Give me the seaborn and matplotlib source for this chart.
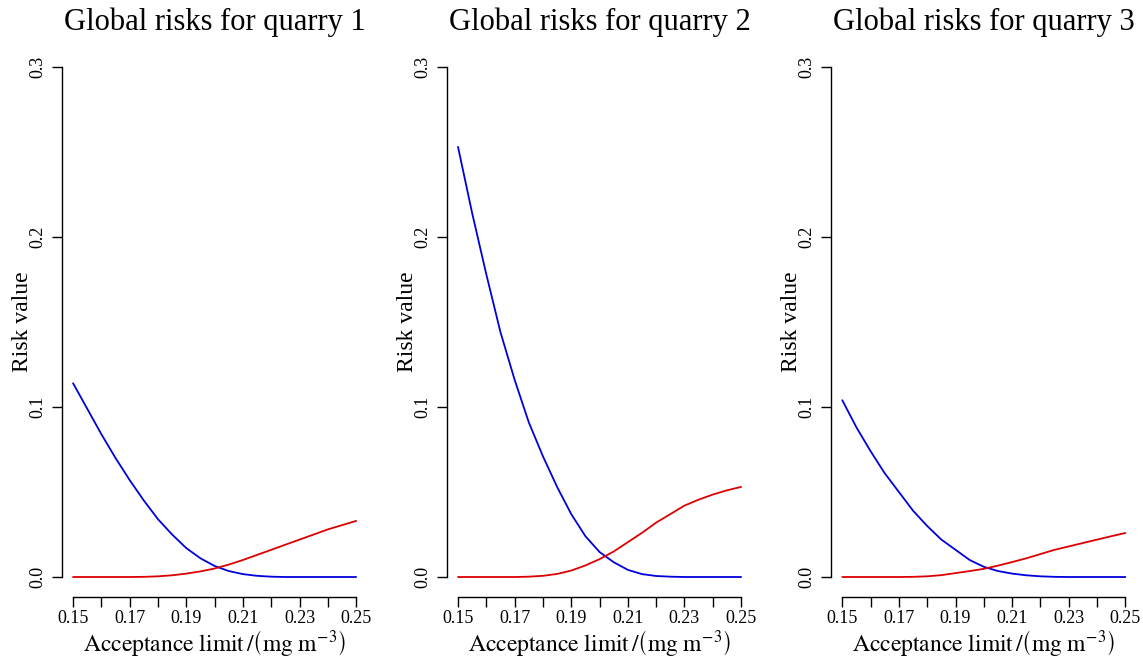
import numpy as np
import pandas as pd
import matplotlib
matplotlib.use("Agg")
import matplotlib.pyplot as plt
import seaborn as sns

# 数据：接受限 (mg m^-3) 与风险值
limit = [0.150, 0.155, 0.160, 0.165, 0.170, 0.175, 0.180, 0.185, 0.190, 0.195, 0.200,
         0.205, 0.210, 0.215, 0.220, 0.225, 0.230, 0.235, 0.240, 0.245, 0.250]

# 蓝线（下降）
blue_q1 = [0.114, 0.099, 0.084, 0.070, 0.057, 0.045, 0.034, 0.025, 0.017, 0.011, 0.0065,
           0.0035, 0.0017, 0.0007, 0.0002, 0.0, 0.0, 0.0, 0.0, 0.0, 0.0]
blue_q2 = [0.253, 0.214, 0.178, 0.144, 0.116, 0.091, 0.071, 0.053, 0.037, 0.024, 0.0147,
           0.0087, 0.0042, 0.0017, 0.0006, 0.0002, 0.0, 0.0, 0.0, 0.0, 0.0]
blue_q3 = [0.104, 0.088, 0.074, 0.061, 0.050, 0.039, 0.030, 0.022, 0.016, 0.010, 0.006,
           0.0035, 0.002, 0.001, 0.0004, 0.0001, 0.0, 0.0, 0.0, 0.0, 0.0]

# 红线（上升）
red_q1 = [0.0, 0.0, 0.0, 0.0, 0.0, 0.0001, 0.0004, 0.001, 0.002, 0.0033, 0.005,
          0.0073, 0.010, 0.013, 0.016, 0.019, 0.022, 0.025, 0.028, 0.0305, 0.033]
red_q2 = [0.0, 0.0, 0.0, 0.0, 0.0, 0.0002, 0.0007, 0.0018, 0.0038, 0.0068, 0.0105,
          0.015, 0.0205, 0.026, 0.032, 0.037, 0.042, 0.0455, 0.0485, 0.051, 0.053]
red_q3 = [0.0, 0.0, 0.0, 0.0, 0.0, 0.0001, 0.0004, 0.0011, 0.0023, 0.0035, 0.0048,
          0.0067, 0.0088, 0.011, 0.0135, 0.016, 0.018, 0.020, 0.022, 0.024, 0.0259]

titles = ["Global risks for quarry 1", "Global risks for quarry 2", "Global risks for quarry 3"]
x_ticks = [0.15, 0.16, 0.17, 0.18, 0.19, 0.20, 0.21, 0.22, 0.23, 0.24, 0.25]
x_ticklabels = ["0.15", "", "0.17", "", "0.19", "", "0.21", "", "0.23", "", "0.25"]
y_ticks = [0.0, 0.1, 0.2, 0.3]
y_ticklabels = ["0.0", "0.1", "0.2", "0.3"]

blues = [blue_q1, blue_q2, blue_q3]
reds = [red_q1, red_q2, red_q3]

sns.set_style("ticks")
plt.rcParams['font.family'] = ['Liberation Serif', 'DejaVu Serif']
plt.rcParams['mathtext.fontset'] = 'stix'
plt.rcParams['text.color'] = 'black'
plt.rcParams['axes.labelcolor'] = 'black'

fig = plt.figure(figsize=(11.43, 6.57), dpi=100)
lefts = [0.054, 0.3908, 0.727]

for i in range(3):
    ax = fig.add_axes([lefts[i], 0.0907, 0.2675, 0.8384])
    df = pd.DataFrame({'limit': limit, 'blue': blues[i], 'red': reds[i]})
    sns.lineplot(data=df, x='limit', y='blue', color='#0000dd', linewidth=1.3, ax=ax)
    sns.lineplot(data=df, x='limit', y='red', color='#dd0000', linewidth=1.3, ax=ax)

    ax.set_xlim(0.146, 0.254)
    ax.set_ylim(-0.012, 0.312)
    ax.spines['top'].set_visible(False)
    ax.spines['right'].set_visible(False)
    ax.spines['left'].set_bounds(0.0, 0.3)
    ax.spines['bottom'].set_bounds(0.15, 0.25)
    for s in ['left', 'bottom']:
        ax.spines[s].set_color('black')
        ax.spines[s].set_linewidth(1.0)

    ax.set_xticks(x_ticks)
    ax.set_xticklabels(x_ticklabels, fontsize=13)
    ax.set_yticks(y_ticks)
    ax.set_yticklabels(y_ticklabels, fontsize=13, rotation=90, va='center')
    ax.tick_params(axis='both', direction='out', length=7, width=1.0, colors='black')
    ax.tick_params(axis='x', pad=2)
    ax.tick_params(axis='y', pad=4)

    # 标题和坐标轴标签（位置按坐标轴比例放置）
    ax.text(0.5, 1.0446, titles[i], transform=ax.transAxes, fontsize=22,
            ha='center', va='center', color='black')
    ax.set_ylabel("Risk value", fontsize=17, va='center')
    ax.yaxis.set_label_coords(-0.128, 0.5)
    ax.set_xlabel(r"$\mathrm{Acceptance\ limit}\,/\left(\mathrm{mg\ m}^{-3}\right)$",
                  fontsize=17, va='center')
    ax.xaxis.set_label_coords(0.5, -0.083)

fig.savefig("out.png", dpi=100)
